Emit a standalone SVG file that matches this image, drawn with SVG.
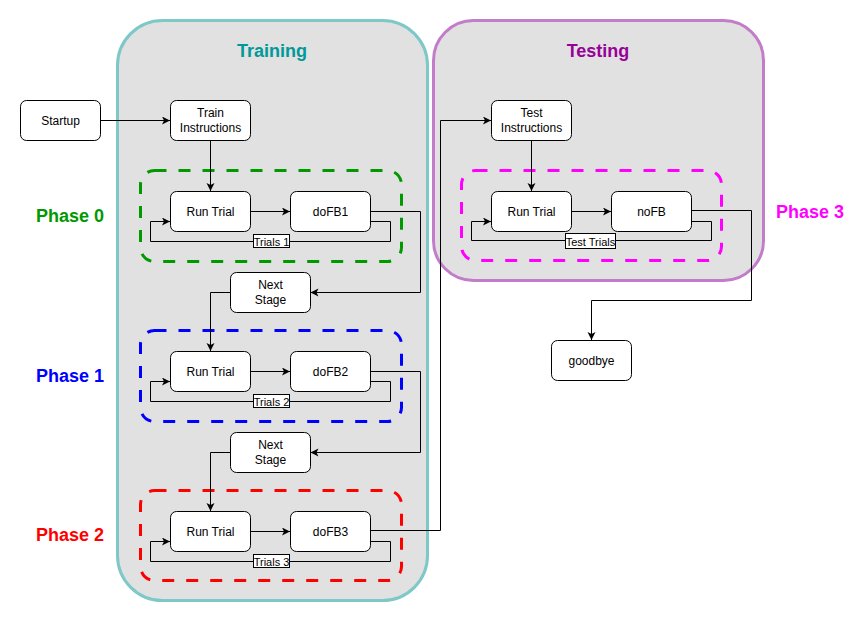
<svg xmlns="http://www.w3.org/2000/svg" width="860" height="620" viewBox="0 0 860 620">
<defs>
<marker id="arr" markerUnits="userSpaceOnUse" markerWidth="10" markerHeight="10" refX="8" refY="4" orient="auto">
<path d="M0,0 L8,4 L0,8 L2,4 z" fill="#000"/>
</marker>
<style>
.node rect{fill:#fff;stroke:#000;stroke-width:1}
.node text{font-family:"Liberation Sans",Arial,sans-serif;font-size:12px;fill:#000;text-anchor:middle}
.edge{fill:none;stroke:#000;stroke-width:1;marker-end:url(#arr)}
.loop{fill:none;stroke:#000;stroke-width:1;marker-end:url(#arr)}
.lbl rect{fill:#fff;stroke:#000;stroke-width:1}
.lbl text{font-family:"Liberation Sans",Arial,sans-serif;font-size:11px;fill:#000;text-anchor:middle}
.phase{fill:none;stroke-width:3;stroke-dasharray:12 12}
.ptext{font-family:"Liberation Sans",Arial,sans-serif;font-size:18px;font-weight:bold;text-anchor:middle}
</style>
</defs>
<rect width="860" height="620" fill="#fff"/>
<g id="training">
<rect x="117.5" y="20.5" width="310" height="580" rx="45" fill="#e1e1e1" stroke="#7ec8c8" stroke-width="3"/>
<text class="ptext" x="272" y="57" fill="#009999">Training</text>
</g>
<g id="testing">
<rect x="433.5" y="20.5" width="330" height="260" rx="40" fill="#e1e1e1" stroke="#c27cc9" stroke-width="3"/>
<text class="ptext" x="598" y="57" fill="#990099">Testing</text>
</g>
<g id="phase0">
<rect class="phase" x="140.5" y="170.5" width="261" height="91" rx="14" stroke="#009900"/>
<text class="ptext" x="70" y="222" fill="#009900">Phase 0</text>
</g>
<g id="phase1">
<rect class="phase" x="140.5" y="330.5" width="261" height="91" rx="14" stroke="#0000ff"/>
<text class="ptext" x="70" y="382" fill="#0000ff">Phase 1</text>
</g>
<g id="phase2">
<rect class="phase" x="140.5" y="490.5" width="261" height="90" rx="14" stroke="#ff0000"/>
<text class="ptext" x="70" y="541" fill="#ff0000">Phase 2</text>
</g>
<g id="phase3">
<rect class="phase" x="461.5" y="170.5" width="260" height="90" rx="14" stroke="#ff00ff"/>
<text class="ptext" x="810" y="218" fill="#ff00ff">Phase 3</text>
</g>
<g id="connectors">
<path class="edge" d="M100.5,120.5 H170"/>
<path class="edge" d="M210.5,140.5 V191"/>
<path class="edge" d="M250.5,211.5 H290"/>
<path class="loop" d="M370.5,221.5 H390.5 V241.5 H150.5 V221.5 H170"/>
<path class="edge" d="M370.5,211.5 H420.5 V292.5 H310.5"/>
<path class="edge" d="M230.5,292.5 H210.5 V351"/>
<path class="edge" d="M250.5,371.5 H290"/>
<path class="loop" d="M370.5,381.5 H390.5 V401.5 H150.5 V381.5 H170"/>
<path class="edge" d="M370.5,371.5 H420.5 V452.5 H310.5"/>
<path class="edge" d="M230.5,452.5 H210.5 V511"/>
<path class="edge" d="M250.5,531.5 H290"/>
<path class="loop" d="M370.5,541.5 H390.5 V561.5 H150.5 V541.5 H170"/>
<path class="edge" d="M370.5,530.5 H440.5 V120.5 H491"/>
<path class="edge" d="M531.5,140.5 V191"/>
<path class="edge" d="M571.5,211.5 H611"/>
<path class="loop" d="M691.5,221.5 H711.5 V240.5 H471.5 V221.5 H491"/>
<path class="edge" d="M691.5,210.5 H751.5 V300.5 H591.5 V340"/>
<g class="lbl"><rect x="253.5" y="234.5" width="36" height="13"/><text x="271.5" y="245.5">Trials 1</text></g>
<g class="lbl"><rect x="253.5" y="394.5" width="36" height="13"/><text x="271.5" y="405.5">Trials 2</text></g>
<g class="lbl"><rect x="253.5" y="554.5" width="36" height="13"/><text x="271.5" y="565.5">Trials 3</text></g>
<g class="lbl"><rect x="565.5" y="233.5" width="50" height="15"/><text x="590.5" y="245.5">Test Trials</text></g>
</g>
<g id="startup" class="node"><rect x="20.5" y="100.5" width="80" height="40" rx="6"/><text x="60.5" y="124.5">Startup</text></g>
<g id="trainInstr" class="node"><rect x="170.5" y="100.5" width="80" height="40" rx="6"/><text x="210.5" y="117">Train</text><text x="210.5" y="132">Instructions</text></g>
<g id="runTrial0" class="node"><rect x="170.5" y="191.5" width="80" height="40" rx="6"/><text x="210.5" y="215.5">Run Trial</text></g>
<g id="doFB1" class="node"><rect x="290.5" y="191.5" width="80" height="40" rx="6"/><text x="330.5" y="215.5">doFB1</text></g>
<g id="nextStage1" class="node"><rect x="230.5" y="272.5" width="80" height="40" rx="6"/><text x="270.5" y="289">Next</text><text x="270.5" y="304">Stage</text></g>
<g id="runTrial1" class="node"><rect x="170.5" y="351.5" width="80" height="40" rx="6"/><text x="210.5" y="375.5">Run Trial</text></g>
<g id="doFB2" class="node"><rect x="290.5" y="351.5" width="80" height="40" rx="6"/><text x="330.5" y="375.5">doFB2</text></g>
<g id="nextStage2" class="node"><rect x="230.5" y="432.5" width="80" height="40" rx="6"/><text x="270.5" y="449">Next</text><text x="270.5" y="464">Stage</text></g>
<g id="runTrial2" class="node"><rect x="170.5" y="511.5" width="80" height="40" rx="6"/><text x="210.5" y="535.5">Run Trial</text></g>
<g id="doFB3" class="node"><rect x="290.5" y="511.5" width="80" height="40" rx="6"/><text x="330.5" y="535.5">doFB3</text></g>
<g id="testInstr" class="node"><rect x="491.5" y="100.5" width="80" height="40" rx="6"/><text x="531.5" y="117">Test</text><text x="531.5" y="132">Instructions</text></g>
<g id="runTrial3" class="node"><rect x="491.5" y="191.5" width="80" height="40" rx="6"/><text x="531.5" y="215.5">Run Trial</text></g>
<g id="noFB" class="node"><rect x="611.5" y="191.5" width="80" height="40" rx="6"/><text x="651.5" y="215.5">noFB</text></g>
<g id="goodbye" class="node"><rect x="551.5" y="340.5" width="80" height="40" rx="6"/><text x="591.5" y="364.5">goodbye</text></g>
</svg>
